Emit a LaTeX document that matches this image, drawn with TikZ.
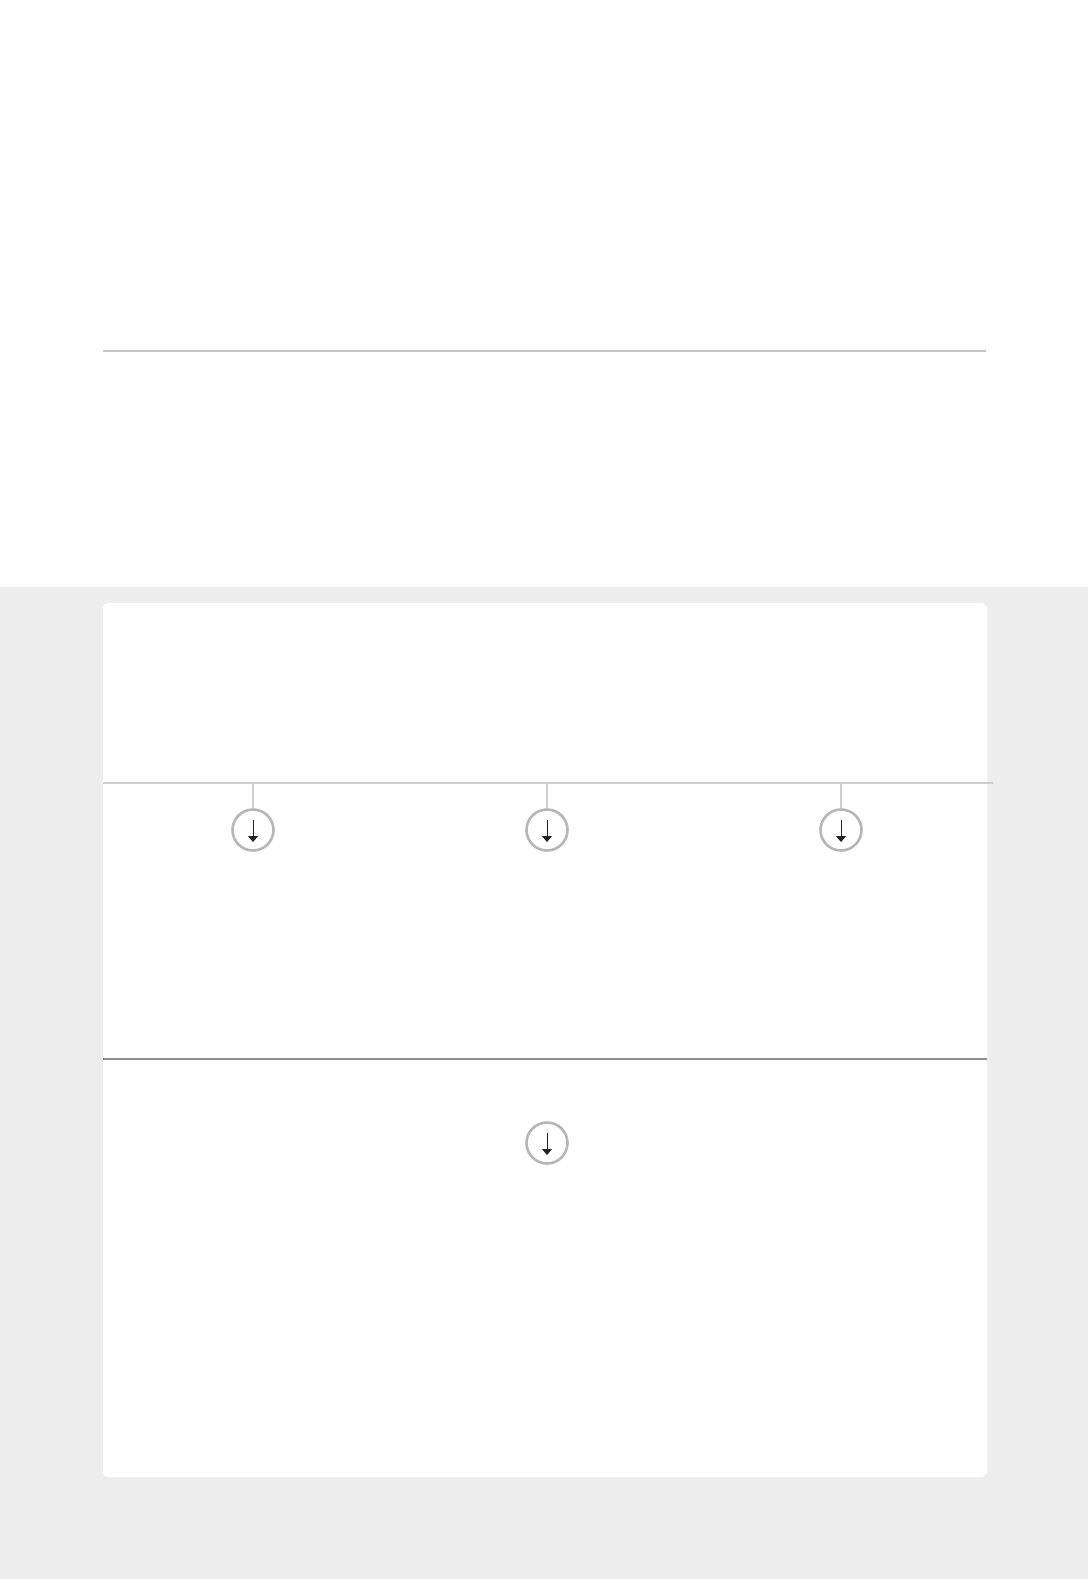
\documentclass[tikz,border=0pt]{standalone}
\usetikzlibrary{positioning,arrows.meta}
\definecolor{bandgray}{HTML}{EDEDED}
\definecolor{rulegray}{HTML}{C4C4C4}
\definecolor{linegray}{HTML}{CFCFCF}
\definecolor{darkrule}{HTML}{8E8E8E}
\definecolor{ringgray}{HTML}{B6B6B6}
\definecolor{arrowink}{HTML}{222222}
\tikzset{
  ring/.style={circle, draw=ringgray, line width=2.6pt, fill=white, minimum size=41pt, inner sep=0pt},
  downarrow/.style={draw=arrowink, line width=0.9pt, -{Triangle[width=10pt,length=6pt]}},
  stub/.style={draw=linegray, line width=1.5pt}
}
\begin{document}
\begin{tikzpicture}[x=1pt, y=-1pt]
      \useasboundingbox (0,0) rectangle (1088,1579);
      \fill[white] (0,0) rectangle (1088,587);
      \fill[bandgray] (0,587) rectangle (1088,1579);
      \fill[white, rounded corners=5pt] (103,603) rectangle (987,1477);
      \draw[rulegray, line width=2pt] (103,351) -- (986,351);

      \coordinate(l1) at (103,783);
      \coordinate(r1) at (993,783);
      \coordinate(l2) at (103,1059);
      \coordinate(r2) at (987,1059);
      \draw[linegray, line width=1.5pt] (l1) -- (r1);
      \draw[darkrule, line width=1.8pt] (l2) -- (r2);

      \node(a1) [ring] at (253,830) {};
      \node(a2) [ring] at (547,830) {};
      \node(a3) [ring] at (841,830) {};
      \node(a4) [ring] at (547,1143) {};

      \coordinate(t1) at (253,783);
      \coordinate(t2) at (547,783);
      \coordinate(t3) at (841,783);
      \draw[stub] (t1) -- (a1);
      \draw[stub] (t2) -- (a2);
      \draw[stub] (t3) -- (a3);

      \foreach \n in {a1,a2,a3,a4}
        \draw[downarrow] ([yshift=10pt]\n.center) -- ([yshift=-12pt]\n.center);
\end{tikzpicture}
\end{document}
